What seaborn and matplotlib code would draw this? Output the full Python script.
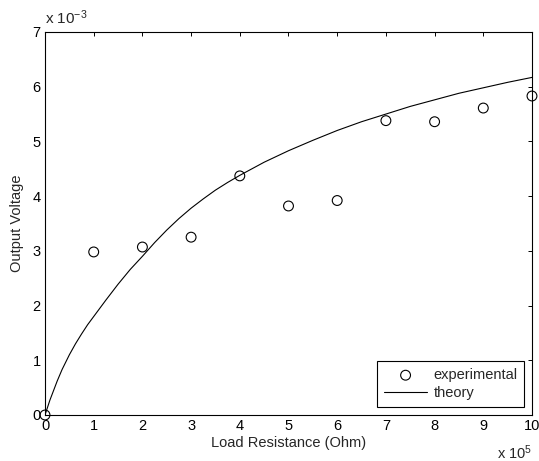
import seaborn as sns
import matplotlib.pyplot as plt

# experimental points (x in 1e5 Ohm, y in 1e-3 V)
res_exp = [0, 1, 2, 3, 4, 5, 6, 7, 8, 9, 10]
volt_exp = [0, 2.98, 3.07, 3.25, 4.37, 3.82, 3.92, 5.38, 5.36, 5.61, 5.83]

# theory curve
res_th = [0, 0.1, 0.25, 0.35, 0.5, 0.625, 0.75, 0.875, 1, 1.25, 1.5, 1.75, 2, 2.25, 2.5, 2.75,
          3, 3.25, 3.5, 3.75, 4, 4.5, 5, 5.5, 6, 6.5, 7, 7.5, 8, 8.5, 9, 9.5, 10]
volt_th = [0, 0.27, 0.62, 0.83, 1.1, 1.3, 1.48, 1.65, 1.8, 2.1, 2.39, 2.66, 2.9, 3.15, 3.38, 3.59,
           3.78, 3.95, 4.11, 4.25, 4.38, 4.62, 4.83, 5.02, 5.2, 5.36, 5.5, 5.64, 5.76, 5.88, 5.98, 6.08, 6.17]

sns.set_style("white")
plt.rcParams['font.family'] = ['Liberation Sans', 'DejaVu Sans']
plt.rcParams['font.size'] = 10.5
plt.rcParams['mathtext.default'] = 'regular'

fig, ax = plt.subplots(figsize=(5.39, 4.61), dpi=100)
fig.subplots_adjust(left=0.0835, right=0.987, top=0.9306, bottom=0.0998)

sns.scatterplot(x=res_exp, y=volt_exp, ax=ax, marker='o', s=50,
                facecolor='none', edgecolor='black', linewidth=0.8,
                label='experimental', zorder=3, clip_on=False)
sns.lineplot(x=res_th, y=volt_th, ax=ax, color='black', linewidth=0.8,
             label='theory')

ax.set_xlim(0, 10)
ax.set_ylim(0, 7)
ax.set_xticks(range(0, 11))
ax.set_yticks(range(0, 8))
ax.tick_params(direction='in', length=3, width=0.7, top=True, right=True,
               labelsize=10.5, pad=3, colors='black')
for sp in ax.spines.values():
    sp.set_linewidth(0.8)
    sp.set_color('black')

ax.set_xlabel('Load Resistance (Ohm)', fontsize=10.5, labelpad=2)
ax.set_ylabel('Output Voltage', fontsize=10.5, labelpad=6)

ax.text(0.0, 1.012, r'x $10^{-3}$', transform=ax.transAxes, ha='left', va='bottom', fontsize=11)
ax.text(1.0, -0.075, r'x $10^{5}$', transform=ax.transAxes, ha='right', va='top', fontsize=10.5)

leg = ax.legend(loc='lower right', fancybox=False, edgecolor='black', framealpha=1,
                borderaxespad=0.55, handlelength=3.0, handletextpad=0.4, fontsize=10.5,
                borderpad=0.45, labelspacing=0.3)
leg.get_frame().set_linewidth(0.8)

fig.savefig('out.png', dpi=100)
